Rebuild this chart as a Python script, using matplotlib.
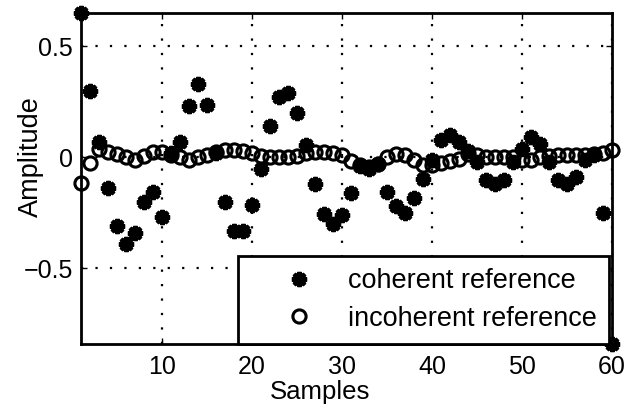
import matplotlib
matplotlib.use('Agg')
import matplotlib.pyplot as plt

samples = list(range(1, 61))
coherent = [0.65, 0.30, 0.07, -0.14, -0.31, -0.39, -0.34, -0.20, -0.155, -0.27,
            0.02, 0.07, 0.23, 0.33, 0.235, 0.02, -0.20, -0.33, -0.33, -0.215,
            -0.05, 0.14, 0.27, 0.29, 0.20, 0.055, -0.12, -0.255, -0.30, -0.26,
            -0.16, -0.04, -0.05, -0.03, -0.155, -0.22, -0.25, -0.185, -0.095, -0.01,
            0.08, 0.10, 0.07, 0.03, -0.02, -0.10, -0.12, -0.10, -0.02, 0.04,
            0.09, 0.06, -0.02, -0.10, -0.12, -0.09, -0.01, 0.01, -0.25, -0.84]
incoherent = [-0.115, -0.025, 0.04, 0.025, 0.015, 0.0, -0.01, 0.005, 0.025, 0.025,
              0.01, 0.0, -0.01, 0.0, 0.01, 0.025, 0.035, 0.035, 0.03, 0.02,
              0.005, 0.0, 0.0, 0.0, 0.005, 0.02, 0.025, 0.025, 0.02, 0.01,
              -0.015, -0.035, -0.045, -0.03, 0.0, 0.015, 0.01, -0.01, -0.035, -0.035,
              -0.025, -0.015, -0.005, 0.015, 0.01, 0.0, 0.0, 0.0, 0.0, -0.01,
              -0.01, 0.0, 0.005, 0.01, 0.01, 0.01, 0.01, 0.015, 0.02, 0.035]
x_ticks = [10, 20, 30, 40, 50, 60]
y_ticks = [-0.5, 0, 0.5]
series_labels = ['coherent reference', 'incoherent reference']
x_label = 'Samples'
y_label = 'Amplitude'

plt.rcParams['font.family'] = ['Liberation Sans', 'DejaVu Sans']
fig = plt.figure(figsize=(6.36, 4.07), dpi=100)
ax = fig.add_axes([81/636, 1 - 344/407, (612 - 81)/636, (344 - 13)/407])

ax.plot(samples, coherent, linestyle='none', marker=(8, 2, 0), ms=11, mew=3,
        color='black', clip_on=False, label=series_labels[0], zorder=3)
ax.plot(samples, incoherent, linestyle='none', marker='o', ms=9.5, mfc='none',
        mec='black', mew=2.2, clip_on=False, label=series_labels[1], zorder=3)

ax.set_xlim(samples[0], samples[-1])
ax.set_ylim(min(coherent), max(coherent))
ax.set_xticks(x_ticks)
ax.set_yticks(y_ticks)
ax.set_yticklabels(['\u22120.5', '0', '0.5'])
ax.tick_params(direction='in', length=4, width=1, top=True, right=True,
               labelsize=18, colors='black')
ax.tick_params(axis='x', pad=8)
ax.tick_params(axis='y', pad=6)
ax.grid(True, color='black', linestyle=(0, (1, 5.5)), linewidth=1.6)
for s in ax.spines.values():
    s.set_linewidth(2)
    s.set_color('black')

ax.set_xlabel(x_label, fontsize=18.5, va='top')
ax.xaxis.set_label_coords((320 - 81)/531, (344 - 380)/331)
ax.set_ylabel(y_label, fontsize=19.5)
ax.yaxis.set_label_coords((44 - 81)/531, 0.5 - (157 - (13 + 344)/2)/331)

leg = ax.legend(loc='lower right', bbox_to_anchor=((609 - 81)/531, 0),
                fontsize=19.5, frameon=True, fancybox=False, borderaxespad=0,
                handlelength=3.6, handletextpad=0.0, labelspacing=0.42,
                borderpad=0.45)
leg.get_frame().set_edgecolor('black')
leg.get_frame().set_linewidth(2)
leg.get_frame().set_alpha(1)

fig.savefig('out.png', dpi=100)
